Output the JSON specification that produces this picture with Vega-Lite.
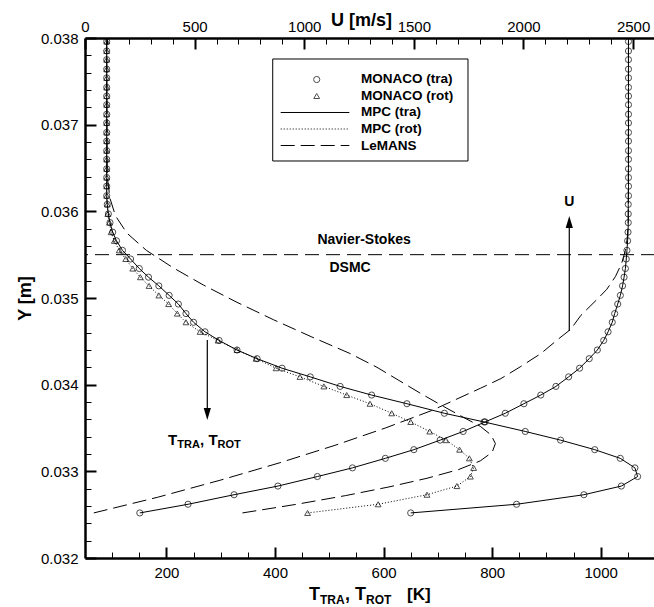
{
  "$schema": "https://vega.github.io/schema/vega-lite/v6.json",
  "width": 570,
  "height": 520,
  "autosize": "none",
  "padding": {"left": 85, "top": 38, "right": 0, "bottom": 49},
  "background": "white",
  "config": {
    "view": {"stroke": null},
    "font": "Liberation Sans",
    "text": {"font": "Liberation Sans", "fontWeight": "bold", "color": "black"},
    "axis": {
      "domainColor": "black",
      "domainWidth": 2.5,
      "tickColor": "black",
      "tickWidth": 2,
      "labelColor": "black",
      "labelFont": "Liberation Sans",
      "labelFontSize": 15,
      "labelFlush": false,
      "labelOverlap": false,
      "titleColor": "black",
      "titleFont": "Liberation Sans",
      "titleFontWeight": "bold",
      "titleFontSize": 18,
      "grid": false
    }
  },
  "datasets": {
    "monaco": [
      {"y": 0.03252, "ttra": 650, "trot": 460, "u": 250},
      {"y": 0.03262, "ttra": 845, "trot": 590, "u": 470},
      {"y": 0.03273, "ttra": 969, "trot": 680, "u": 680},
      {"y": 0.03283, "ttra": 1038, "trot": 735, "u": 880},
      {"y": 0.03294, "ttra": 1068, "trot": 760, "u": 1060},
      {"y": 0.03304, "ttra": 1063, "trot": 766, "u": 1220},
      {"y": 0.03315, "ttra": 1036, "trot": 758, "u": 1370},
      {"y": 0.03325, "ttra": 989, "trot": 740, "u": 1500},
      {"y": 0.03336, "ttra": 926, "trot": 715, "u": 1620},
      {"y": 0.03346, "ttra": 861, "trot": 685, "u": 1725},
      {"y": 0.03357, "ttra": 785, "trot": 650, "u": 1825},
      {"y": 0.03367, "ttra": 712, "trot": 615, "u": 1917},
      {"y": 0.03378, "ttra": 643, "trot": 575, "u": 2002},
      {"y": 0.03388, "ttra": 578, "trot": 532, "u": 2079},
      {"y": 0.03398, "ttra": 520, "trot": 490, "u": 2148},
      {"y": 0.03409, "ttra": 465, "trot": 446, "u": 2206},
      {"y": 0.03419, "ttra": 413, "trot": 402, "u": 2256},
      {"y": 0.03430, "ttra": 367, "trot": 365, "u": 2300},
      {"y": 0.03440, "ttra": 330, "trot": 330, "u": 2337},
      {"y": 0.03451, "ttra": 297, "trot": 295, "u": 2366},
      {"y": 0.03461, "ttra": 271, "trot": 262, "u": 2386},
      {"y": 0.03472, "ttra": 250, "trot": 236, "u": 2405},
      {"y": 0.03482, "ttra": 236, "trot": 220, "u": 2416},
      {"y": 0.03493, "ttra": 222, "trot": 204, "u": 2430},
      {"y": 0.03503, "ttra": 205, "trot": 186, "u": 2442},
      {"y": 0.03514, "ttra": 186, "trot": 168, "u": 2452},
      {"y": 0.03524, "ttra": 167, "trot": 152, "u": 2459},
      {"y": 0.03534, "ttra": 150, "trot": 138, "u": 2465},
      {"y": 0.03545, "ttra": 134, "trot": 125, "u": 2469},
      {"y": 0.03555, "ttra": 119, "trot": 113, "u": 2472},
      {"y": 0.03566, "ttra": 108, "trot": 104, "u": 2475},
      {"y": 0.03576, "ttra": 101, "trot": 98, "u": 2477},
      {"y": 0.03587, "ttra": 96, "trot": 95, "u": 2478},
      {"y": 0.03597, "ttra": 93, "trot": 92, "u": 2478},
      {"y": 0.03608, "ttra": 91, "trot": 91, "u": 2478},
      {"y": 0.03618, "ttra": 90, "trot": 90, "u": 2479},
      {"y": 0.03629, "ttra": 90, "trot": 90, "u": 2479},
      {"y": 0.03639, "ttra": 90, "trot": 90, "u": 2479},
      {"y": 0.03649, "ttra": 90, "trot": 90, "u": 2479},
      {"y": 0.03660, "ttra": 90, "trot": 90, "u": 2479},
      {"y": 0.03670, "ttra": 90, "trot": 90, "u": 2479},
      {"y": 0.03681, "ttra": 90, "trot": 90, "u": 2479},
      {"y": 0.03691, "ttra": 90, "trot": 90, "u": 2479},
      {"y": 0.03702, "ttra": 90, "trot": 90, "u": 2479},
      {"y": 0.03712, "ttra": 90, "trot": 90, "u": 2479},
      {"y": 0.03723, "ttra": 90, "trot": 90, "u": 2479},
      {"y": 0.03733, "ttra": 90, "trot": 90, "u": 2479},
      {"y": 0.03743, "ttra": 90, "trot": 90, "u": 2479},
      {"y": 0.03754, "ttra": 90, "trot": 90, "u": 2479},
      {"y": 0.03764, "ttra": 90, "trot": 90, "u": 2479},
      {"y": 0.03775, "ttra": 90, "trot": 90, "u": 2479},
      {"y": 0.03785, "ttra": 90, "trot": 90, "u": 2479},
      {"y": 0.03796, "ttra": 90, "trot": 90, "u": 2479}
    ],
    "lemansT": [
      {"y": 0.03252, "t": 340}, {"y": 0.03262, "t": 440}, {"y": 0.03272, "t": 530},
      {"y": 0.03282, "t": 610}, {"y": 0.03292, "t": 680}, {"y": 0.03302, "t": 738},
      {"y": 0.03312, "t": 778}, {"y": 0.03322, "t": 800}, {"y": 0.03332, "t": 806},
      {"y": 0.03342, "t": 798}, {"y": 0.03352, "t": 778}, {"y": 0.03362, "t": 748},
      {"y": 0.03375, "t": 710}, {"y": 0.03390, "t": 668}, {"y": 0.03405, "t": 628},
      {"y": 0.03420, "t": 588}, {"y": 0.03436, "t": 538}, {"y": 0.03455, "t": 468},
      {"y": 0.03475, "t": 397}, {"y": 0.03495, "t": 330}, {"y": 0.03515, "t": 268},
      {"y": 0.03535, "t": 212}, {"y": 0.03555, "t": 163}, {"y": 0.03575, "t": 127},
      {"y": 0.03595, "t": 106}, {"y": 0.03615, "t": 96}, {"y": 0.03640, "t": 91},
      {"y": 0.03800, "t": 90}
    ],
    "lemansU": [
      {"y": 0.03252, "u": 40}, {"y": 0.03270, "u": 330}, {"y": 0.03290, "u": 620},
      {"y": 0.03310, "u": 890}, {"y": 0.03330, "u": 1140}, {"y": 0.03350, "u": 1370},
      {"y": 0.03370, "u": 1580}, {"y": 0.03396, "u": 1805}, {"y": 0.03407, "u": 1897},
      {"y": 0.03421, "u": 1988}, {"y": 0.03436, "u": 2080}, {"y": 0.03452, "u": 2156},
      {"y": 0.03464, "u": 2216}, {"y": 0.03480, "u": 2262}, {"y": 0.03498, "u": 2334},
      {"y": 0.03510, "u": 2380}, {"y": 0.03525, "u": 2420}, {"y": 0.03540, "u": 2448},
      {"y": 0.03555, "u": 2465}, {"y": 0.03570, "u": 2474}, {"y": 0.03590, "u": 2478},
      {"y": 0.03800, "u": 2479}
    ],
    "one": [{}]
  },
  "resolve": {
    "scale": {"x": "independent", "y": "independent"},
    "axis": {"x": "independent", "y": "independent"}
  },
  "layer": [
    {
      "data": {"name": "lemansT"},
      "mark": {"type": "line", "color": "black", "strokeWidth": 1, "strokeDash": [14, 6], "clip": true},
      "encoding": {
        "x": {"field": "t", "type": "quantitative", "scale": {"domain": [50, 1100]}, "axis": null},
        "y": {"field": "y", "type": "quantitative", "scale": {"domain": [0.032, 0.038]}, "axis": null},
        "order": {"field": "y"}
      }
    },
    {
      "data": {"name": "lemansU"},
      "mark": {"type": "line", "color": "black", "strokeWidth": 1, "strokeDash": [14, 6], "clip": true},
      "encoding": {
        "x": {"field": "u", "type": "quantitative", "scale": {"domain": [0, 2600]}, "axis": null},
        "y": {"field": "y", "type": "quantitative", "scale": {"domain": [0.032, 0.038]}, "axis": null},
        "order": {"field": "y"}
      }
    },
    {
      "data": {"name": "monaco"},
      "mark": {"type": "line", "color": "black", "strokeWidth": 1, "clip": true},
      "encoding": {
        "x": {"field": "ttra", "type": "quantitative", "scale": {"domain": [50, 1100]}, "axis": null},
        "y": {"field": "y", "type": "quantitative", "scale": {"domain": [0.032, 0.038]}, "axis": null},
        "order": {"field": "y"}
      }
    },
    {
      "data": {"name": "monaco"},
      "mark": {"type": "line", "color": "black", "strokeWidth": 1, "strokeDash": [1, 2], "clip": true},
      "encoding": {
        "x": {"field": "trot", "type": "quantitative", "scale": {"domain": [50, 1100]}, "axis": null},
        "y": {"field": "y", "type": "quantitative", "scale": {"domain": [0.032, 0.038]}, "axis": null},
        "order": {"field": "y"}
      }
    },
    {
      "data": {"name": "monaco"},
      "mark": {"type": "line", "color": "black", "strokeWidth": 1, "clip": true},
      "encoding": {
        "x": {"field": "u", "type": "quantitative", "scale": {"domain": [0, 2600]}, "axis": null},
        "y": {"field": "y", "type": "quantitative", "scale": {"domain": [0.032, 0.038]}, "axis": null},
        "order": {"field": "y"}
      }
    },
    {
      "data": {"name": "monaco"},
      "mark": {"type": "point", "shape": "triangle-up", "filled": false, "color": "black", "size": 34, "strokeWidth": 1, "clip": true},
      "encoding": {
        "x": {"field": "trot", "type": "quantitative", "scale": {"domain": [50, 1100]}, "axis": null},
        "y": {"field": "y", "type": "quantitative", "scale": {"domain": [0.032, 0.038]}, "axis": null}
      }
    },
    {
      "data": {"name": "monaco"},
      "mark": {"type": "point", "shape": "circle", "filled": false, "color": "black", "size": 38, "strokeWidth": 1, "clip": true},
      "encoding": {
        "x": {
          "field": "u", "type": "quantitative", "scale": {"domain": [0, 2600]},
          "axis": {
            "orient": "top",
            "title": "U [m/s]",
            "titleX": 276,
            "titleY": -12.5,
            "titleAlign": "center",
            "titleBaseline": "alphabetic",
            "values": [0, 500, 1000, 1500, 2000, 2500],
            "format": "d",
            "tickSize": -11,
            "labelPadding": 15
          }
        },
        "y": {"field": "y", "type": "quantitative", "scale": {"domain": [0.032, 0.038]}, "axis": null}
      }
    },
    {
      "data": {"name": "monaco"},
      "mark": {"type": "point", "shape": "circle", "filled": false, "color": "black", "size": 38, "strokeWidth": 1, "clip": true},
      "encoding": {
        "x": {
          "field": "ttra", "type": "quantitative", "scale": {"domain": [50, 1100]},
          "axis": {
            "orient": "bottom",
            "title": null,
            "values": [200, 400, 600, 800, 1000],
            "format": "d",
            "tickSize": -11,
            "labelPadding": 18
          }
        },
        "y": {
          "field": "y", "type": "quantitative", "scale": {"domain": [0.032, 0.038]},
          "axis": {
            "orient": "left",
            "title": "Y [m]",
            "titlePadding": 6,
            "values": [0.032, 0.033, 0.034, 0.035, 0.036, 0.037, 0.038],
            "format": ".3f",
            "tickSize": -11,
            "labelPadding": 18
          }
        }
      }
    },
    {
      "data": {"name": "monaco"},
      "mark": {"type": "point", "opacity": 0},
      "encoding": {
        "x": {
          "field": "ttra", "type": "quantitative", "scale": {"domain": [50, 1100]},
          "axis": {
            "orient": "bottom", "title": null, "labels": false, "domain": false, "tickSize": -6, "tickWidth": 1,
            "values": [100, 150, 250, 300, 350, 450, 500, 550, 650, 700, 750, 850, 900, 950, 1050]
          }
        },
        "y": {
          "field": "y", "type": "quantitative", "scale": {"domain": [0.032, 0.038]},
          "axis": {
            "orient": "left", "title": null, "labels": false, "domain": false, "tickSize": -6, "tickWidth": 1,
            "values": [0.0322, 0.0324, 0.0326, 0.0328, 0.0332, 0.0334, 0.0336, 0.0338, 0.0342, 0.0344, 0.0346, 0.0348, 0.0352, 0.0354, 0.0356, 0.0358, 0.0362, 0.0364, 0.0366, 0.0368, 0.0372, 0.0374, 0.0376, 0.0378]
          }
        }
      }
    },
    {
      "data": {"name": "monaco"},
      "mark": {"type": "point", "opacity": 0},
      "encoding": {
        "x": {
          "field": "u", "type": "quantitative", "scale": {"domain": [0, 2600]},
          "axis": {
            "orient": "top", "title": null, "labels": false, "domain": false, "tickSize": -6, "tickWidth": 1,
            "values": [100, 200, 300, 400, 600, 700, 800, 900, 1100, 1200, 1300, 1400, 1600, 1700, 1800, 1900, 2100, 2200, 2300, 2400]
          }
        },
        "y": {"field": "y", "type": "quantitative", "scale": {"domain": [0.032, 0.038]}, "axis": null}
      }
    },
    {
      "data": {"name": "one"},
      "mark": {"type": "rule", "color": "black", "strokeWidth": 1, "strokeDash": [14, 7]},
      "encoding": {
        "y": {"datum": 0.0355, "type": "quantitative", "scale": {"domain": [0.032, 0.038]}, "axis": null}
      }
    },
    {
      "data": {"name": "one"},
      "mark": {"type": "text", "fontSize": 14, "align": "center", "baseline": "middle"},
      "encoding": {
        "x": {"datum": 1273, "type": "quantitative", "scale": {"domain": [0, 2600]}, "axis": null},
        "y": {"datum": 0.035669, "type": "quantitative", "scale": {"domain": [0.032, 0.038]}, "axis": null},
        "text": {"value": "Navier-Stokes"}
      }
    },
    {
      "data": {"name": "one"},
      "mark": {"type": "text", "fontSize": 14, "align": "center", "baseline": "middle"},
      "encoding": {
        "x": {"datum": 1209, "type": "quantitative", "scale": {"domain": [0, 2600]}, "axis": null},
        "y": {"datum": 0.035346, "type": "quantitative", "scale": {"domain": [0.032, 0.038]}, "axis": null},
        "text": {"value": "DSMC"}
      }
    },
    {
      "data": {"name": "one"},
      "mark": {"type": "rule", "color": "black", "strokeWidth": 1.2},
      "encoding": {
        "x": {"datum": 2209, "type": "quantitative", "scale": {"domain": [0, 2600]}, "axis": null},
        "y": {"datum": 0.034619, "type": "quantitative", "scale": {"domain": [0.032, 0.038]}, "axis": null},
        "y2": {"datum": 0.035854}
      }
    },
    {
      "data": {"name": "one"},
      "mark": {"type": "point", "shape": "M0,-1L0.6,1L-0.6,1Z", "filled": true, "color": "black", "size": 144, "opacity": 1},
      "encoding": {
        "x": {"datum": 2209, "type": "quantitative", "scale": {"domain": [0, 2600]}, "axis": null},
        "y": {"datum": 0.035877, "type": "quantitative", "scale": {"domain": [0.032, 0.038]}, "axis": null}
      }
    },
    {
      "data": {"name": "one"},
      "mark": {"type": "text", "fontSize": 14, "align": "center", "baseline": "middle"},
      "encoding": {
        "x": {"datum": 2209, "type": "quantitative", "scale": {"domain": [0, 2600]}, "axis": null},
        "y": {"datum": 0.036108, "type": "quantitative", "scale": {"domain": [0.032, 0.038]}, "axis": null},
        "text": {"value": "U"}
      }
    },
    {
      "data": {"name": "one"},
      "mark": {"type": "rule", "color": "black", "strokeWidth": 1.2},
      "encoding": {
        "x": {"datum": 275.3, "type": "quantitative", "scale": {"domain": [50, 1100]}, "axis": null},
        "y": {"datum": 0.034515, "type": "quantitative", "scale": {"domain": [0.032, 0.038]}, "axis": null},
        "y2": {"datum": 0.033685}
      }
    },
    {
      "data": {"name": "one"},
      "mark": {"type": "point", "shape": "M0,1L0.6,-1L-0.6,-1Z", "filled": true, "color": "black", "size": 144, "opacity": 1},
      "encoding": {
        "x": {"datum": 275.3, "type": "quantitative", "scale": {"domain": [50, 1100]}, "axis": null},
        "y": {"datum": 0.0336615, "type": "quantitative", "scale": {"domain": [0.032, 0.038]}, "axis": null}
      }
    },
    {
      "data": {"name": "one"},
      "mark": {"type": "text", "fontSize": 15, "align": "left", "baseline": "alphabetic"},
      "encoding": {
        "x": {"datum": 202.9, "type": "quantitative", "scale": {"domain": [50, 1100]}, "axis": null},
        "y": {"datum": 0.0333038, "type": "quantitative", "scale": {"domain": [0.032, 0.038]}, "axis": null},
        "text": {"value": "T"}
      }
    },
    {
      "data": {"name": "one"},
      "mark": {"type": "text", "fontSize": 11, "align": "left", "baseline": "alphabetic"},
      "encoding": {
        "x": {"datum": 220, "type": "quantitative", "scale": {"domain": [50, 1100]}, "axis": null},
        "y": {"datum": 0.0332654, "type": "quantitative", "scale": {"domain": [0.032, 0.038]}, "axis": null},
        "text": {"value": "TRA"}
      }
    },
    {
      "data": {"name": "one"},
      "mark": {"type": "text", "fontSize": 15, "align": "left", "baseline": "alphabetic"},
      "encoding": {
        "x": {"datum": 262, "type": "quantitative", "scale": {"domain": [50, 1100]}, "axis": null},
        "y": {"datum": 0.0333038, "type": "quantitative", "scale": {"domain": [0.032, 0.038]}, "axis": null},
        "text": {"value": ", T"}
      }
    },
    {
      "data": {"name": "one"},
      "mark": {"type": "text", "fontSize": 11, "align": "left", "baseline": "alphabetic"},
      "encoding": {
        "x": {"datum": 294, "type": "quantitative", "scale": {"domain": [50, 1100]}, "axis": null},
        "y": {"datum": 0.0332654, "type": "quantitative", "scale": {"domain": [0.032, 0.038]}, "axis": null},
        "text": {"value": "ROT"}
      }
    },
    {
      "data": {"name": "one"},
      "mark": {"type": "text", "fontSize": 18, "align": "left", "baseline": "alphabetic"},
      "encoding": {
        "x": {"datum": 462.6, "type": "quantitative", "scale": {"domain": [50, 1100]}, "axis": null},
        "y": {"datum": 0.0315154, "type": "quantitative", "scale": {"domain": [0.032, 0.038]}, "axis": null},
        "text": {"value": "T"}
      }
    },
    {
      "data": {"name": "one"},
      "mark": {"type": "text", "fontSize": 12, "align": "left", "baseline": "alphabetic"},
      "encoding": {
        "x": {"datum": 482.9, "type": "quantitative", "scale": {"domain": [50, 1100]}, "axis": null},
        "y": {"datum": 0.0314692, "type": "quantitative", "scale": {"domain": [0.032, 0.038]}, "axis": null},
        "text": {"value": "TRA"}
      }
    },
    {
      "data": {"name": "one"},
      "mark": {"type": "text", "fontSize": 18, "align": "left", "baseline": "alphabetic"},
      "encoding": {
        "x": {"datum": 528.9, "type": "quantitative", "scale": {"domain": [50, 1100]}, "axis": null},
        "y": {"datum": 0.0315154, "type": "quantitative", "scale": {"domain": [0.032, 0.038]}, "axis": null},
        "text": {"value": ", T"}
      }
    },
    {
      "data": {"name": "one"},
      "mark": {"type": "text", "fontSize": 12, "align": "left", "baseline": "alphabetic"},
      "encoding": {
        "x": {"datum": 567.6, "type": "quantitative", "scale": {"domain": [50, 1100]}, "axis": null},
        "y": {"datum": 0.0314692, "type": "quantitative", "scale": {"domain": [0.032, 0.038]}, "axis": null},
        "text": {"value": "ROT"}
      }
    },
    {
      "data": {"name": "one"},
      "mark": {"type": "text", "fontSize": 17, "align": "left", "baseline": "alphabetic"},
      "encoding": {
        "x": {"datum": 643.2, "type": "quantitative", "scale": {"domain": [50, 1100]}, "axis": null},
        "y": {"datum": 0.0315154, "type": "quantitative", "scale": {"domain": [0.032, 0.038]}, "axis": null},
        "text": {"value": "[K]"}
      }
    },
    {
      "data": {"name": "one"},
      "mark": {"type": "rect", "fill": "white", "stroke": "black", "strokeWidth": 1},
      "encoding": {
        "x": {"datum": 395.8, "type": "quantitative", "scale": {"domain": [50, 1100]}, "axis": null},
        "x2": {"datum": 755.5},
        "y": {"datum": 0.0377577, "type": "quantitative", "scale": {"domain": [0.032, 0.038]}, "axis": null},
        "y2": {"datum": 0.0365808}
      }
    },
    {
      "data": {"name": "one"},
      "mark": {"type": "point", "shape": "circle", "filled": false, "color": "black", "size": 38, "strokeWidth": 1},
      "encoding": {
        "x": {"datum": 476.8, "type": "quantitative", "scale": {"domain": [50, 1100]}, "axis": null},
        "y": {"datum": 0.0375212, "type": "quantitative", "scale": {"domain": [0.032, 0.038]}, "axis": null}
      }
    },
    {
      "data": {"name": "one"},
      "mark": {"type": "point", "shape": "triangle-up", "filled": false, "color": "black", "size": 34, "strokeWidth": 1},
      "encoding": {
        "x": {"datum": 476.8, "type": "quantitative", "scale": {"domain": [50, 1100]}, "axis": null},
        "y": {"datum": 0.0373308, "type": "quantitative", "scale": {"domain": [0.032, 0.038]}, "axis": null}
      }
    },
    {
      "data": {"name": "one"},
      "mark": {"type": "rule", "color": "black", "strokeWidth": 1},
      "encoding": {
        "x": {"datum": 410.5, "type": "quantitative", "scale": {"domain": [50, 1100]}, "axis": null},
        "x2": {"datum": 536.9},
        "y": {"datum": 0.0371404, "type": "quantitative", "scale": {"domain": [0.032, 0.038]}, "axis": null}
      }
    },
    {
      "data": {"name": "one"},
      "mark": {"type": "rule", "color": "black", "strokeWidth": 1, "strokeDash": [1, 2]},
      "encoding": {
        "x": {"datum": 410.5, "type": "quantitative", "scale": {"domain": [50, 1100]}, "axis": null},
        "x2": {"datum": 536.9},
        "y": {"datum": 0.03695, "type": "quantitative", "scale": {"domain": [0.032, 0.038]}, "axis": null}
      }
    },
    {
      "data": {"name": "one"},
      "mark": {"type": "rule", "color": "black", "strokeWidth": 1, "strokeDash": [14, 6]},
      "encoding": {
        "x": {"datum": 410.5, "type": "quantitative", "scale": {"domain": [50, 1100]}, "axis": null},
        "x2": {"datum": 536.9},
        "y": {"datum": 0.0367596, "type": "quantitative", "scale": {"domain": [0.032, 0.038]}, "axis": null}
      }
    },
    {
      "data": {"name": "one"},
      "mark": {"type": "text", "fontSize": 13.5, "align": "left", "baseline": "middle"},
      "encoding": {
        "x": {"datum": 558.4, "type": "quantitative", "scale": {"domain": [50, 1100]}, "axis": null},
        "y": {"datum": 0.0375212, "type": "quantitative", "scale": {"domain": [0.032, 0.038]}, "axis": null},
        "text": {"value": "MONACO (tra)"}
      }
    },
    {
      "data": {"name": "one"},
      "mark": {"type": "text", "fontSize": 13.5, "align": "left", "baseline": "middle"},
      "encoding": {
        "x": {"datum": 558.4, "type": "quantitative", "scale": {"domain": [50, 1100]}, "axis": null},
        "y": {"datum": 0.0373308, "type": "quantitative", "scale": {"domain": [0.032, 0.038]}, "axis": null},
        "text": {"value": "MONACO (rot)"}
      }
    },
    {
      "data": {"name": "one"},
      "mark": {"type": "text", "fontSize": 13.5, "align": "left", "baseline": "middle"},
      "encoding": {
        "x": {"datum": 558.4, "type": "quantitative", "scale": {"domain": [50, 1100]}, "axis": null},
        "y": {"datum": 0.0371404, "type": "quantitative", "scale": {"domain": [0.032, 0.038]}, "axis": null},
        "text": {"value": "MPC (tra)"}
      }
    },
    {
      "data": {"name": "one"},
      "mark": {"type": "text", "fontSize": 13.5, "align": "left", "baseline": "middle"},
      "encoding": {
        "x": {"datum": 558.4, "type": "quantitative", "scale": {"domain": [50, 1100]}, "axis": null},
        "y": {"datum": 0.03695, "type": "quantitative", "scale": {"domain": [0.032, 0.038]}, "axis": null},
        "text": {"value": "MPC (rot)"}
      }
    },
    {
      "data": {"name": "one"},
      "mark": {"type": "text", "fontSize": 13.5, "align": "left", "baseline": "middle"},
      "encoding": {
        "x": {"datum": 558.4, "type": "quantitative", "scale": {"domain": [50, 1100]}, "axis": null},
        "y": {"datum": 0.0367596, "type": "quantitative", "scale": {"domain": [0.032, 0.038]}, "axis": null},
        "text": {"value": "LeMANS"}
      }
    }
  ]
}
